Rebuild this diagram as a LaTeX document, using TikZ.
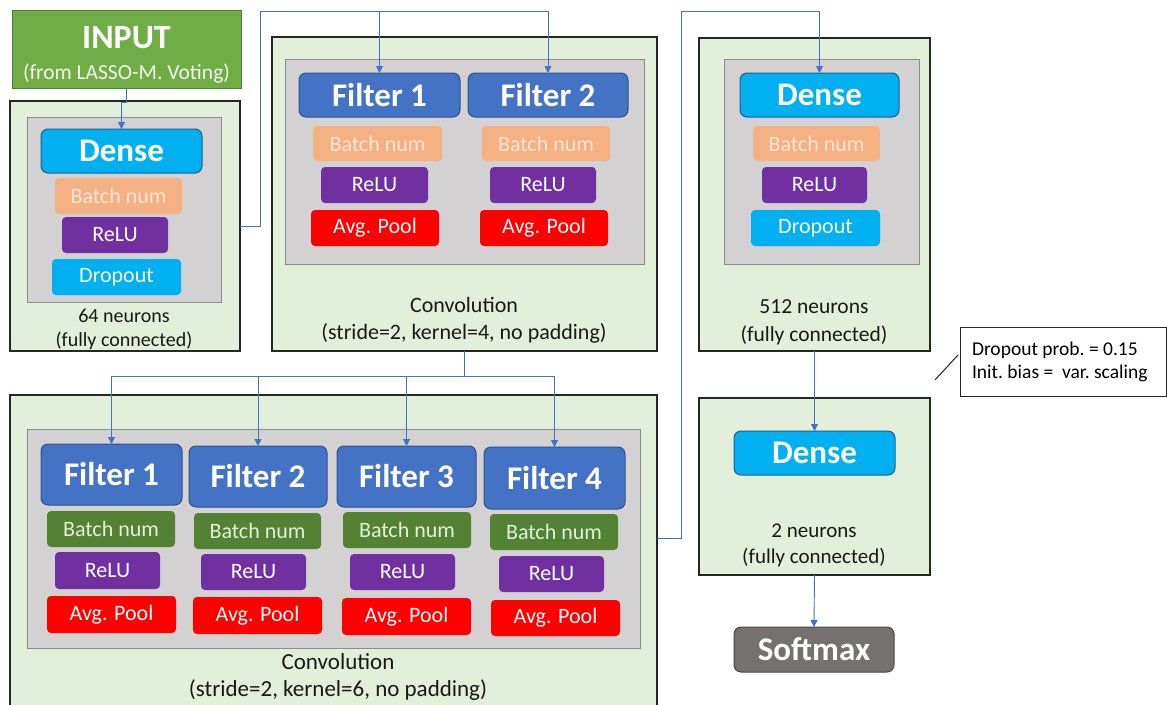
\documentclass[tikz,border=0pt]{standalone}
\usepackage{fontspec}
\setmainfont{Carlito}
\usetikzlibrary{arrows.meta}
\definecolor{lgreen}{HTML}{E2EFDA}
\definecolor{lgrey}{HTML}{D3D1D1}
\definecolor{igrey}{HTML}{8C8C8C}
\definecolor{fblue}{HTML}{4472C4}
\definecolor{fblueD}{HTML}{2F528F}
\definecolor{dcyan}{HTML}{00B0F0}
\definecolor{dcyanD}{HTML}{1F5F8B}
\definecolor{peach}{HTML}{F4B183}
\definecolor{peachT}{HTML}{FBE5D6}
\definecolor{dgreen}{HTML}{548235}
\definecolor{dgreenT}{HTML}{E2F0D9}
\definecolor{purp}{HTML}{7030A0}
\definecolor{inputg}{HTML}{70AD47}
\definecolor{inputgD}{HTML}{507E32}
\definecolor{smgrey}{HTML}{767171}
\definecolor{smgreyD}{HTML}{4A4646}
\definecolor{conn}{HTML}{4472C4}
\newcommand\mkbox[7]{\node[#6, minimum width={(#4-#2)*1pt}, minimum height={(#5-#3)*1pt}] (#1) at ({(#2+#4)/2},{(#3+#5)/2}) {#7};}
\tikzset{
  every node/.style={inner sep=0pt, outer sep=0pt},
  outerbox/.style={draw=black!85, line width=1.3pt, fill=lgreen},
  innerbox/.style={draw=igrey, line width=0.9pt, fill=lgrey},
  bigtext/.style={text=white, font=\bfseries\fontsize{33}{33}\selectfont},
  filt/.style={bigtext, rounded corners=7pt, fill=fblue, draw=fblueD, line width=1pt},
  densebox/.style={bigtext, rounded corners=7pt, fill=dcyan, draw=dcyanD, line width=1pt},
  smbox/.style={bigtext, rounded corners=7pt, fill=smgrey, draw=smgreyD, line width=1pt},
  small/.style={font=\fontsize{22}{22}\selectfont},
  bnpeach/.style={small, rounded corners=4pt, fill=peach, text=peachT},
  bngreen/.style={small, rounded corners=4pt, fill=dgreen, text=dgreenT},
  relu/.style={small, rounded corners=4pt, fill=purp, text=white},
  pool/.style={small, rounded corners=4pt, fill=red, text=white},
  drop/.style={small, rounded corners=4pt, fill=dcyan, text=white},
  caption/.style={align=center, text=black!90},
  arr/.style={draw=conn, line width=0.9pt, -{Triangle[length=7pt,width=7pt]}},
  ln/.style={draw=conn, line width=0.9pt},
}
\begin{document}
\begin{tikzpicture}[x=1pt,y=-1pt]
\useasboundingbox (0,0) rectangle (1167,704);
\fill[white] (0,0) rectangle (1167,704);
% INPUT
\mkbox{input}{12}{10}{241}{88}{fill=inputg, draw=inputgD, line width=0.8pt}{}
\node[text=white, font=\bfseries\fontsize{34}{34}\selectfont] (inputt) at (126.5,38) {INPUT};
\node[text=white!92!inputg, font=\fontsize{21.5}{22}\selectfont] (inputs) at (126.5,73) {(from LASSO-M. Voting)};
% Block 1
\mkbox{b1}{10}{101}{240}{351}{outerbox}{}
\mkbox{i1}{27}{117}{221}{302}{innerbox}{}
\mkbox{d1}{41}{129}{202}{173}{densebox}{Dense}
\mkbox{bn1}{55}{178}{182}{214}{bnpeach}{Batch num}
\mkbox{r1}{62}{217}{168}{253}{relu}{ReLU}
\mkbox{dr1}{52}{259}{181}{295}{drop}{Dropout}
\node[caption, font=\fontsize{20}{24}\selectfont] (c1) at (124,329) {64 neurons\\(fully connected)};
% Block 2
\mkbox{b2}{272}{37}{657}{351}{outerbox}{}
\mkbox{i2}{285}{59}{644}{264}{innerbox}{}
\mkbox{fa1}{299}{73}{460}{117}{filt}{Filter 1}
\mkbox{fa2}{468}{73}{628}{117}{filt}{Filter 2}
\mkbox{bna1}{313}{126}{442}{161}{bnpeach}{Batch num}
\mkbox{bna2}{482}{126}{610}{161}{bnpeach}{Batch num}
\mkbox{ra1}{321}{167}{428}{203}{relu}{ReLU}
\mkbox{ra2}{490}{167}{596}{203}{relu}{ReLU}
\mkbox{pa1}{311}{210}{439}{246}{pool}{Avg. Pool}
\mkbox{pa2}{480}{210}{608}{246}{pool}{Avg. Pool}
\node[caption, font=\fontsize{22}{27}\selectfont] (c2) at (464,320) {Convolution\\(stride=2, kernel=4, no padding)};
% Block 3
\mkbox{b3}{699}{38}{930}{351}{outerbox}{}
\mkbox{i3}{724}{59}{919}{264}{innerbox}{}
\mkbox{d3}{740}{73}{899}{117}{densebox}{Dense}
\mkbox{bn3}{753}{126}{880}{161}{bnpeach}{Batch num}
\mkbox{r3}{762}{167}{867}{203}{relu}{ReLU}
\mkbox{dr3}{751}{210}{880}{246}{drop}{Dropout}
\node[caption, font=\fontsize{21.5}{28}\selectfont] (c3) at (814,322) {512 neurons\\(fully connected)};
% Block 4
\mkbox{b4}{10}{395}{657}{712}{outerbox}{}
\mkbox{i4}{27}{429}{640}{648}{innerbox}{}
\mkbox{g1}{41}{444}{182}{505}{filt}{Filter 1}
\mkbox{g2}{189}{446}{327}{507}{filt}{Filter 2}
\mkbox{g3}{337}{446}{476}{507}{filt}{Filter 3}
\mkbox{g4}{484}{447}{625}{509}{filt}{Filter 4}
\mkbox{bg1}{47}{511}{175}{547}{bngreen}{Batch num}
\mkbox{bg2}{194}{513}{321}{549}{bngreen}{Batch num}
\mkbox{bg3}{343}{512}{471}{548}{bngreen}{Batch num}
\mkbox{bg4}{490}{514}{618}{550}{bngreen}{Batch num}
\mkbox{rg1}{55}{552}{160}{589}{relu}{ReLU}
\mkbox{rg2}{201}{554}{306}{590}{relu}{ReLU}
\mkbox{rg3}{350}{554}{455}{590}{relu}{ReLU}
\mkbox{rg4}{499}{556}{604}{592}{relu}{ReLU}
\mkbox{pg1}{47}{596}{176}{633}{pool}{Avg. Pool}
\mkbox{pg2}{193}{597}{322}{634}{pool}{Avg. Pool}
\mkbox{pg3}{342}{598}{471}{635}{pool}{Avg. Pool}
\mkbox{pg4}{491}{600}{620}{636}{pool}{Avg. Pool}
\node[caption, font=\fontsize{23}{27}\selectfont] (c4) at (338,677) {Convolution\\(stride=2, kernel=6, no padding)};
% Block 5
\mkbox{b5}{699}{398}{930}{575}{outerbox}{}
\mkbox{d5}{734}{431}{895}{475}{densebox}{Dense}
\node[caption, font=\fontsize{21}{26}\selectfont] (c5) at (814,545) {2 neurons\\(fully connected)};
% Softmax
\mkbox{sm}{734}{627}{894}{672}{smbox}{Softmax}
% Note
\mkbox{note}{960}{327}{1166}{396}{draw=black!85, line width=1pt, fill=white}{}
\node[anchor=west, align=left, font=\fontsize{19.5}{23}\selectfont] (nt) at (972,362) {Dropout prob.\ = 0.15\\Init.\ bias = \ var.\ scaling};
\coordinate (n1) at (935,380);
\coordinate (n2) at (958,355);
\draw[line width=1pt, black!85] (n1) -- (n2);
% Connectors
\draw[arr] (input.south) -- ++(0,14) -| (d1.north);
\coordinate (t1) at (260,11);
\draw[arr] (b1.east) -| (t1) -| (fa2.north);
\draw[arr] (fa1.north |- t1) -- (fa1.north);
\coordinate (t2) at (464.5,376);
\draw[ln] (b2.south) -- (t2);
\draw[arr] (t2) -| (g1.north);
\draw[arr] (t2) -| (g4.north);
\draw[arr] (g2.north |- t2) -- (g2.north);
\draw[arr] (g3.north |- t2) -- (g3.north);
\coordinate (t3) at (681,11);
\draw[arr] (b4.east |- 0,538) -| (t3) -| (d3.north);
\draw[arr] (b3.south) -- (d5.north);
\draw[arr] (b5.south) -- (sm.north);
\end{tikzpicture}
\end{document}
